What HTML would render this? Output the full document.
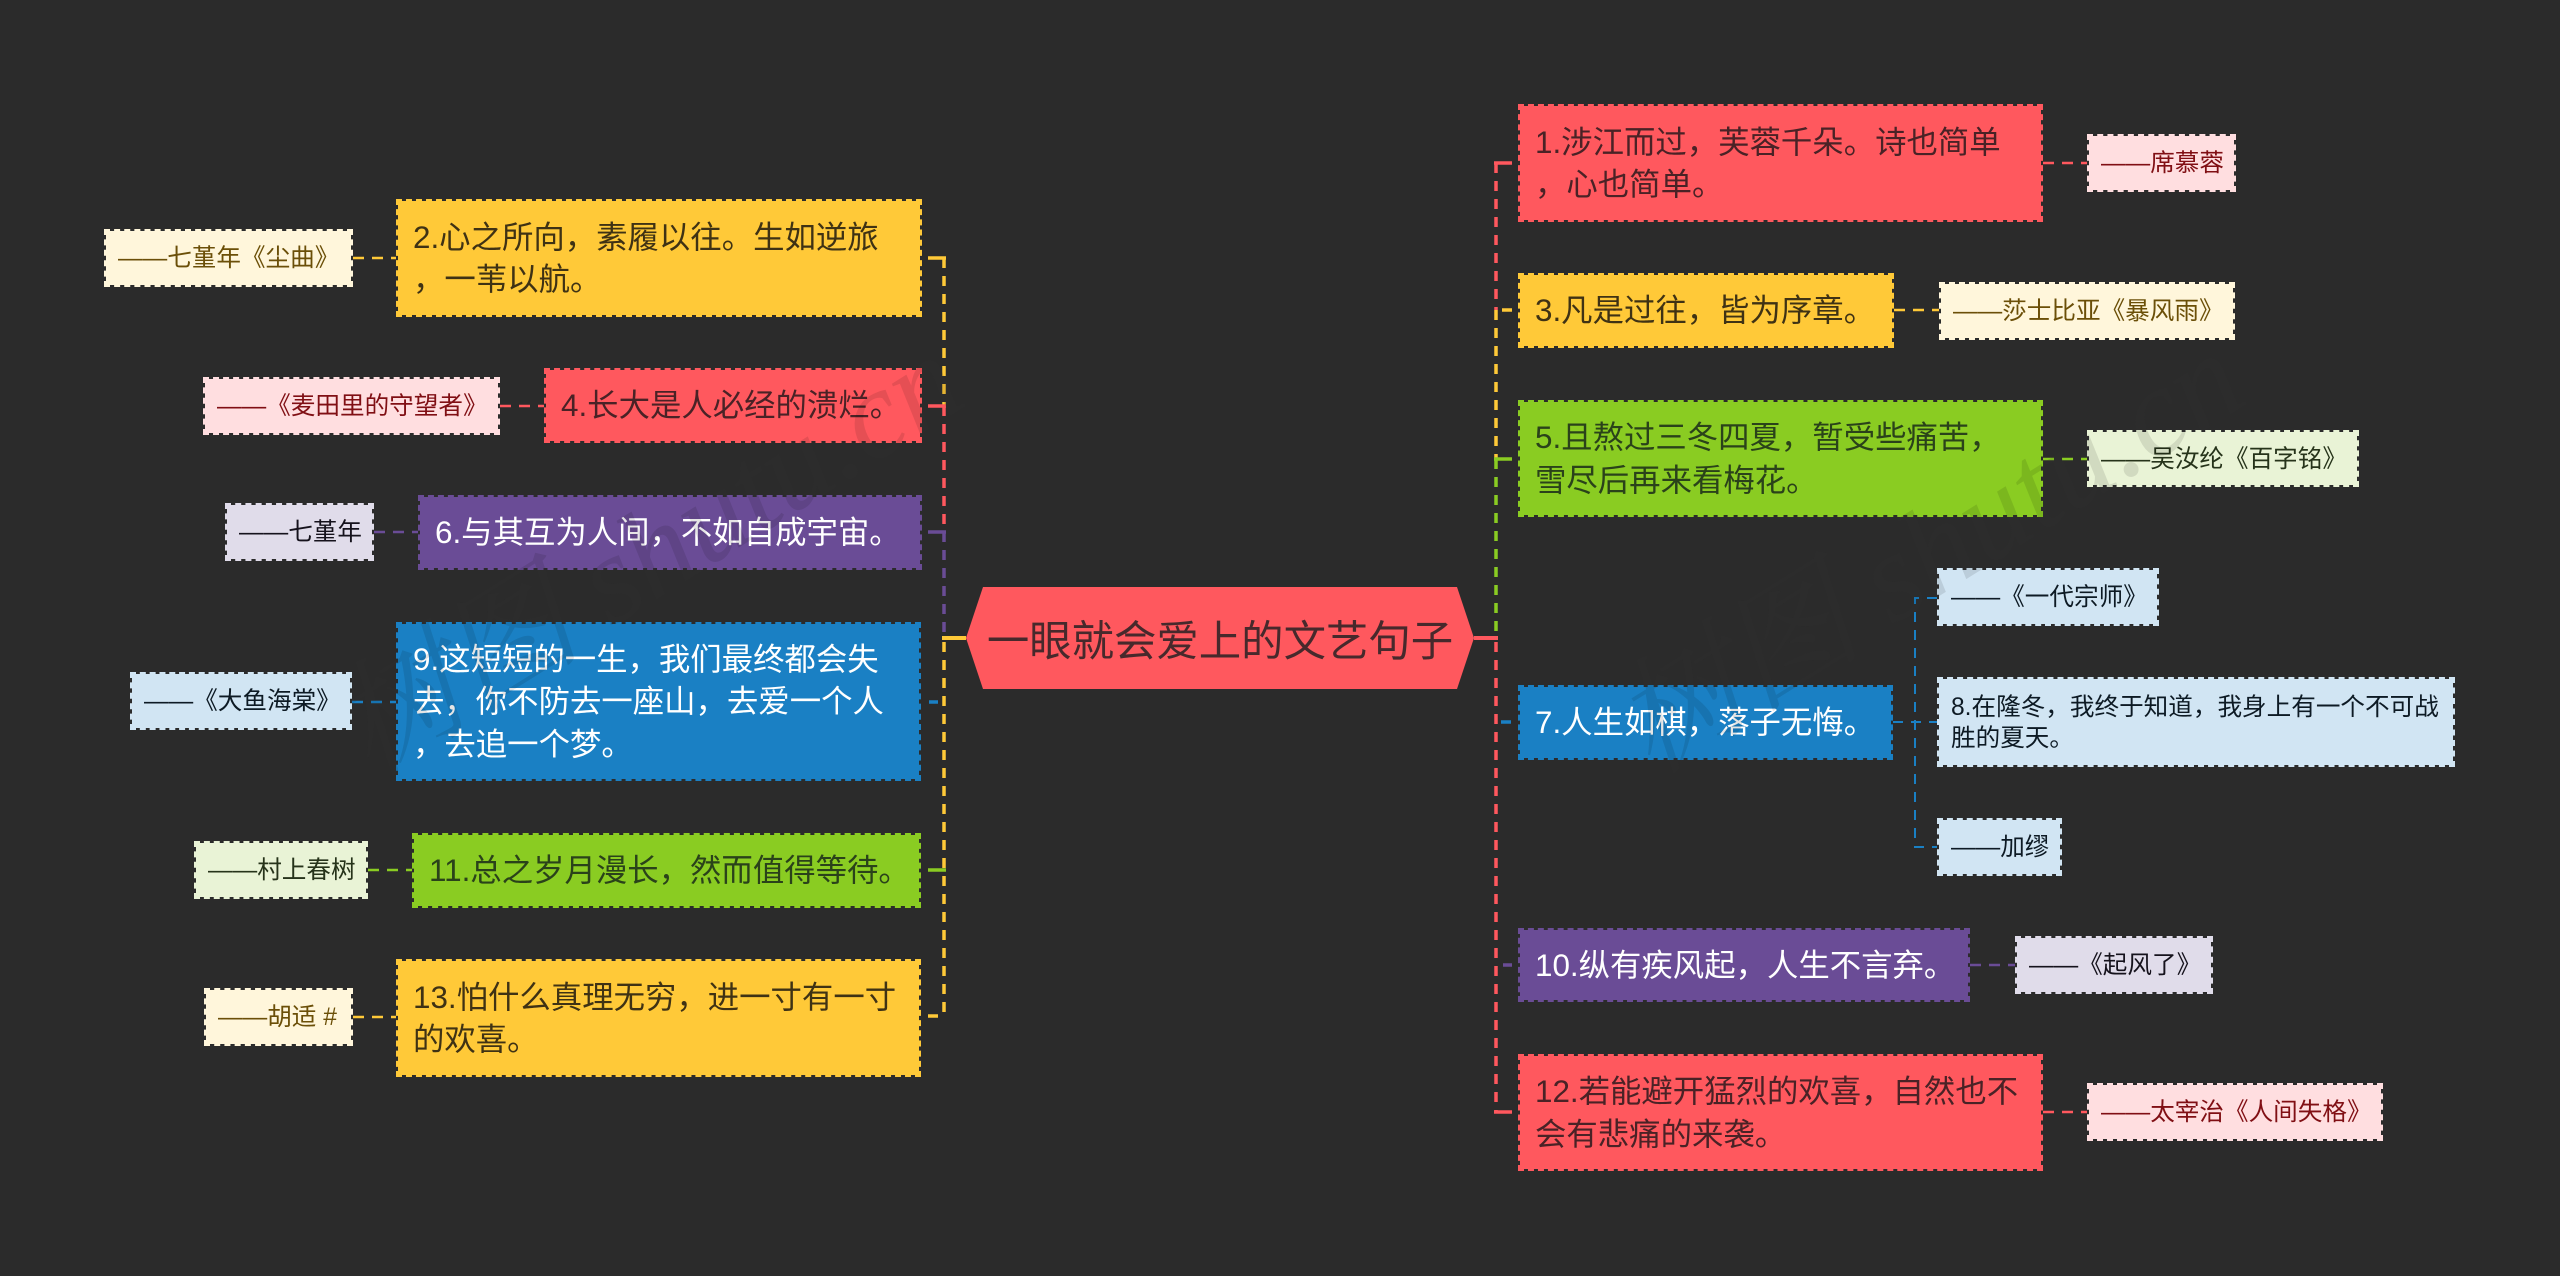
<!DOCTYPE html>
<html lang="zh"><head><meta charset="utf-8"><title>一眼就会爱上的文艺句子</title>
<style>
html,body{margin:0;padding:0;background:#2b2b2b}
#p{position:relative;width:2560px;height:1276px;overflow:hidden;background:#2b2b2b;font-family:"Liberation Sans","Noto Sans CJK SC",sans-serif;text-spacing-trim:space-all}
svg{position:absolute;left:0;top:0}
.n,.t{position:absolute;box-sizing:border-box;display:flex;align-items:center;white-space:nowrap;background-clip:padding-box;border:2px dashed}
.n{font-size:31.4px;line-height:42.5px;padding:2px 0 0 15px}
.t{font-size:24.6px;line-height:31px;padding:1px 0 0 12px}
.r{background-color:#ff585e;border-color:#ff585e;color:#4a2226}
.y{background-color:#ffc938;border-color:#ffc938;color:#3f3214}
.g{background-color:#8acc22;border-color:#8acc22;color:#2a421a}
.b{background-color:#1a80c4;border-color:#1a80c4;color:#fff}
.p{background-color:#6a4c96;border-color:#6a4c96;color:#fff}
.tr{background-color:#ffdee0;border-color:#ffdee0;color:#800f14}
.ty{background-color:#fff6db;border-color:#fff6db;color:#6b4f08}
.tg{background-color:#e9f3d6;border-color:#e9f3d6;color:#26331a}
.tb{background-color:#d1e5f3;border-color:#d1e5f3;color:#0d1a24}
.tp{background-color:#e0dcea;border-color:#e0dcea;color:#15121c}
#c{position:absolute;left:966px;top:587px;width:508px;height:102px;background:#ff585e;clip-path:polygon(17px 0,491px 0,508px 51px,491px 102px,17px 102px,0 51px);display:flex;align-items:center;justify-content:center;font-size:42.4px;color:#47292c;white-space:nowrap}
.w{position:absolute;font-family:"Liberation Serif","Noto Serif CJK SC",serif;font-style:italic;font-size:126px;white-space:nowrap;transform:rotate(-32deg);transform-origin:0 50%;pointer-events:none}
.wl{color:rgba(255,255,255,.035)}
.wd{color:rgba(0,0,0,.1)}
</style></head><body><div id="p">
<div class="w wl" style="left:342px;top:642px">树图 shutu.cn</div>
<div class="w wl" style="left:1623px;top:640px">树图 shutu.cn</div>
<svg width="2560" height="1276" fill="none">
<g stroke-width="3.5" stroke-dasharray="10 8">
<path d="M944 258V406" stroke="#ffc938"/>
<path d="M944 406V532" stroke="#ff585e"/>
<path d="M944 532V638" stroke="#6a4c96"/>
<path d="M944 642V1016" stroke="#ffc938"/>
<path d="M1496 163V310" stroke="#ff585e"/>
<path d="M1496 310V459" stroke="#ffc938"/>
<path d="M1496 459V638" stroke="#8acc22"/>
<path d="M1496 642V1112" stroke="#ff585e"/>
</g>
<g stroke-width="4">
<path d="M966 638H942" stroke="#ffc938"/>
<path d="M1474 638H1498" stroke="#ff585e"/>
</g>
<g stroke-width="3.5">
<path d="M928 258H938M937 258H946" stroke="#ffc938"/>
<path d="M928 406H946" stroke="#ff585e"/>
<path d="M928 532H946" stroke="#6a4c96"/>
<path d="M929 702H938" stroke="#1a80c4"/>
<path d="M928 870H946" stroke="#8acc22"/>
<path d="M928 1016H938" stroke="#ffc938"/>
<path d="M1494 163H1512" stroke="#ff585e"/>
<path d="M1502 310H1512" stroke="#ffc938"/>
<path d="M1494 459H1512" stroke="#8acc22"/>
<path d="M1501 722H1511" stroke="#1a80c4"/>
<path d="M1503 965H1512" stroke="#6a4c96"/>
<path d="M1494 1112H1512" stroke="#ff585e"/>
</g>
<g stroke-width="2.5" stroke-dasharray="11 8">
<path d="M353 258H396" stroke="#ffc938"/>
<path d="M500 406H544" stroke="#ff585e"/>
<path d="M374 532H418" stroke="#6a4c96"/>
<path d="M352 702H396" stroke="#1a80c4"/>
<path d="M368 870H412" stroke="#8acc22"/>
<path d="M353 1017H396" stroke="#ffc938"/>
<path d="M2043 163H2087" stroke="#ff585e"/>
<path d="M1894 310H1939" stroke="#ffc938"/>
<path d="M2043 459H2087" stroke="#8acc22"/>
<path d="M1970 965H2015" stroke="#6a4c96"/>
<path d="M2043 1112H2087" stroke="#ff585e"/>
</g>
<g stroke="#1a80c4" stroke-width="2" stroke-dasharray="10 8">
<path d="M1937 598H1915V847H1937"/>
<path d="M1893 722H1937"/>
</g>
</svg>

<div id="c">一眼就会爱上的文艺句子</div>

<div class="n y" style="left:396px;top:199px;width:526px;height:118px">2.心之所向，素履以往。生如逆旅<br>，一苇以航。</div>
<div class="n r" style="left:544px;top:368px;width:378px;height:75px">4.长大是人必经的溃烂。</div>
<div class="n p" style="left:418px;top:495px;width:504px;height:75px">6.与其互为人间，不如自成宇宙。</div>
<div class="n b" style="left:396px;top:622px;width:525px;height:159px">9.这短短的一生，我们最终都会失<br>去，你不防去一座山，去爱一个人<br>，去追一个梦。</div>
<div class="n g" style="left:412px;top:833px;width:509px;height:75px">11.总之岁月漫长，然而值得等待。</div>
<div class="n y" style="left:396px;top:959px;width:525px;height:118px">13.怕什么真理无穷，进一寸有一寸<br>的欢喜。</div>

<div class="n r" style="left:1518px;top:104px;width:525px;height:118px">1.涉江而过，芙蓉千朵。诗也简单<br>，心也简单。</div>
<div class="n y" style="left:1518px;top:273px;width:376px;height:75px">3.凡是过往，皆为序章。</div>
<div class="n g" style="left:1518px;top:400px;width:525px;height:117px">5.且熬过三冬四夏，暂受些痛苦，<br>雪尽后再来看梅花。</div>
<div class="n b" style="left:1518px;top:685px;width:375px;height:75px">7.人生如棋，落子无悔。</div>
<div class="n p" style="left:1518px;top:928px;width:452px;height:74px">10.纵有疾风起，人生不言弃。</div>
<div class="n r" style="left:1518px;top:1054px;width:525px;height:117px">12.若能避开猛烈的欢喜，自然也不<br>会有悲痛的来袭。</div>

<div class="t ty" style="left:104px;top:229px;width:249px;height:58px">——七堇年《尘曲》</div>
<div class="t tr" style="left:203px;top:377px;width:297px;height:58px">——《麦田里的守望者》</div>
<div class="t tp" style="left:225px;top:503px;width:149px;height:58px">——七堇年</div>
<div class="t tb" style="left:130px;top:672px;width:222px;height:58px">——《大鱼海棠》</div>
<div class="t tg" style="left:194px;top:841px;width:174px;height:58px">——村上春树</div>
<div class="t ty" style="left:204px;top:988px;width:149px;height:58px">——胡适 #</div>

<div class="t tr" style="left:2087px;top:134px;width:149px;height:58px">——席慕蓉</div>
<div class="t ty" style="left:1939px;top:282px;width:296px;height:58px">——莎士比亚《暴风雨》</div>
<div class="t tg" style="left:2087px;top:430px;width:272px;height:57px">——吴汝纶《百字铭》</div>
<div class="t tb" style="left:1937px;top:568px;width:222px;height:58px">——《一代宗师》</div>
<div class="t tb" style="left:1937px;top:677px;width:518px;height:90px">8.在隆冬，我终于知道，我身上有一个不可战<br>胜的夏天。</div>
<div class="t tb" style="left:1937px;top:818px;width:125px;height:58px">——加缪</div>
<div class="t tp" style="left:2015px;top:936px;width:198px;height:58px">——《起风了》</div>
<div class="t tr" style="left:2087px;top:1083px;width:296px;height:58px">——太宰治《人间失格》</div>

<div class="w wd" style="left:342px;top:642px">树图 shutu.cn</div>
<div class="w wd" style="left:1623px;top:640px">树图 shutu.cn</div>
</div></body></html>
